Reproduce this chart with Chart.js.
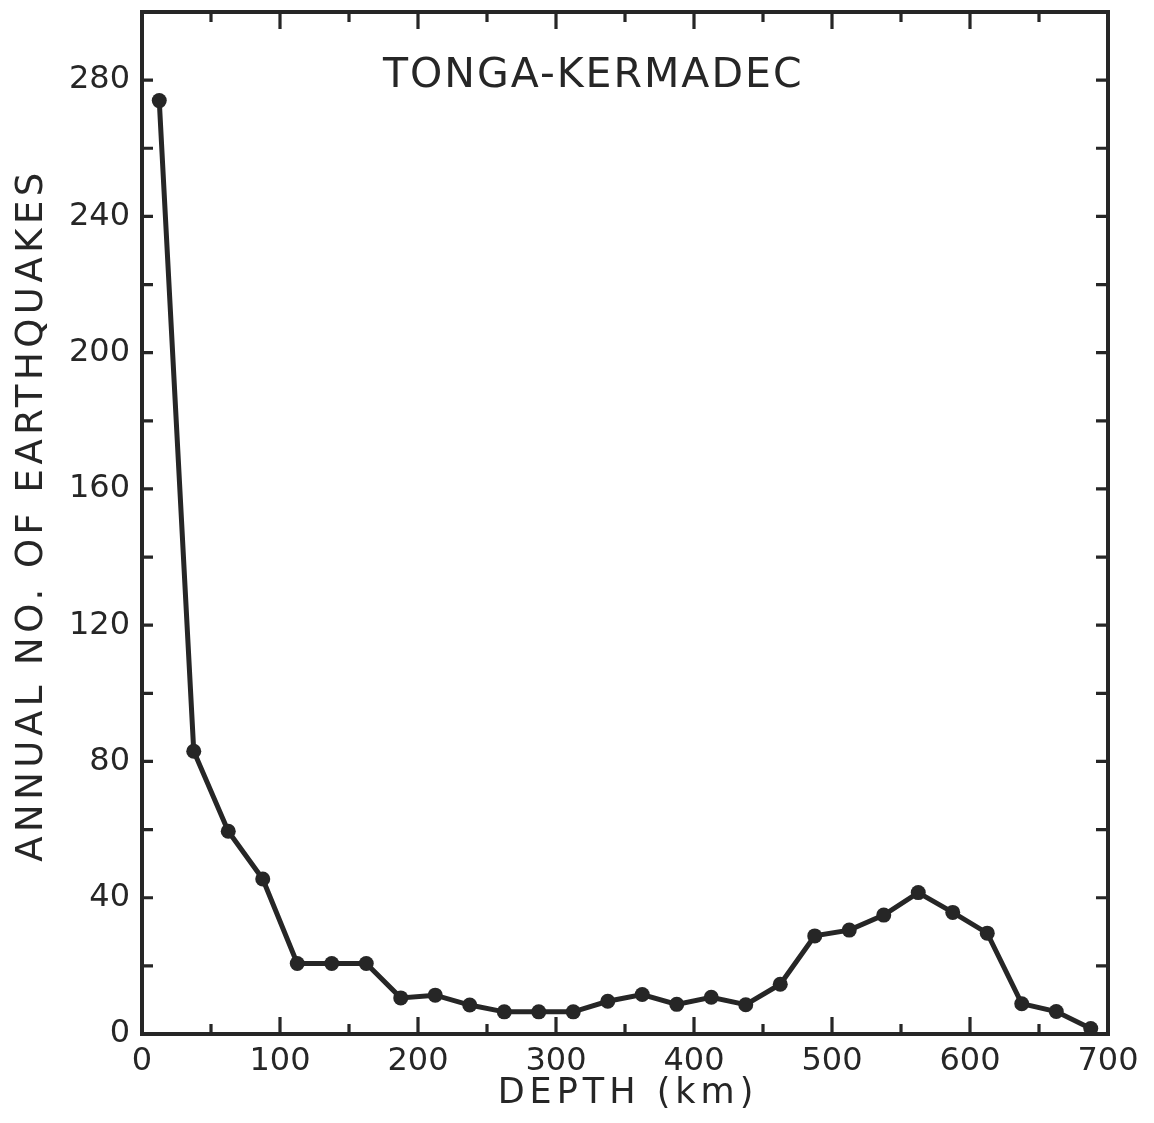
<!DOCTYPE html>
<html>
<head>
<meta charset="utf-8">
<script src="https://cdn.jsdelivr.net/npm/chart.js@4/dist/chart.umd.min.js"></script>
<style>
html,body{margin:0;padding:0;background:#fff;}
#wrap{width:1154px;height:1123px;position:relative;}
</style>
</head>
<body>
<div id="wrap"><canvas id="c" width="1154" height="1123"></canvas></div>
<script>
const depthKm = [12.5, 37.5, 62.5, 87.5, 112.5, 137.5, 162.5, 187.5, 212.5, 237.5, 262.5, 287.5, 312.5, 337.5, 362.5, 387.5, 412.5, 437.5, 462.5, 487.5, 512.5, 537.5, 562.5, 587.5, 612.5, 637.5, 662.5, 687.5];
const annualCount = [274, 83, 59.5, 45.5, 20.7, 20.7, 20.7, 10.6, 11.4, 8.5, 6.5, 6.5, 6.5, 9.6, 11.6, 8.7, 10.8, 8.6, 14.6, 28.8, 30.5, 34.9, 41.5, 35.7, 29.6, 8.9, 6.6, 1.6];
const xLabelValues = [0, 100, 200, 300, 400, 500, 600, 700];
const yLabelValues = [0, 40, 80, 120, 160, 200, 240, 280];
const chartTitle = "TONGA-KERMADEC";
const xTitle = "DEPTH (km)";
const yTitle = "ANNUAL NO. OF EARTHQUAKES";

const INK = '#262626';
const FONT = "'DejaVu Sans', sans-serif";

const frameTicks = {
  id: 'frameTicks',
  afterDatasetsDraw(chart) {
    const ctx = chart.ctx;
    const {left, right, top, bottom} = chart.chartArea;
    const xs = chart.scales.x, ys = chart.scales.y;
    ctx.save();
    ctx.strokeStyle = INK;
    ctx.lineWidth = 4;
    ctx.lineCap = 'butt';
    ctx.strokeRect(left, top, right - left, bottom - top);
    ctx.lineWidth = 3.2;
    xs.ticks.forEach(t => {
      if (t.value <= xs.min || t.value >= xs.max) return;
      const px = xs.getPixelForValue(t.value);
      const len = xLabelValues.includes(t.value) ? 17 : 10;
      ctx.beginPath();
      ctx.moveTo(px, bottom); ctx.lineTo(px, bottom - len);
      ctx.moveTo(px, top); ctx.lineTo(px, top + len);
      ctx.stroke();
    });
    ys.ticks.forEach(t => {
      if (t.value <= ys.min || t.value >= ys.max) return;
      const py = ys.getPixelForValue(t.value);
      ctx.beginPath();
      ctx.moveTo(left, py); ctx.lineTo(left + 11, py);
      ctx.moveTo(right, py); ctx.lineTo(right - 12, py);
      ctx.stroke();
    });
    ctx.fillStyle = INK;
    ctx.textAlign = 'center';
    ctx.textBaseline = 'middle';
    ctx.font = "41px " + FONT;
    ctx.letterSpacing = '2px';
    ctx.fillText(chartTitle, xs.getPixelForValue(327), ys.getPixelForValue(281));
    // axis titles
    ctx.font = "35px " + FONT;
    ctx.letterSpacing = '5px';
    ctx.fillText(xTitle, (left + right) / 2 + 3, 1094);
    ctx.save();
    ctx.translate(32, (top + bottom) / 2 - 8);
    ctx.rotate(-Math.PI / 2);
    ctx.font = "37px " + FONT;
    ctx.letterSpacing = '4.5px';
    ctx.fillText(yTitle, 0, 0);
    ctx.restore();
    ctx.restore();
  }
};

new Chart(document.getElementById('c'), {
  type: 'line',
  data: {
    datasets: [{
      data: depthKm.map((d, i) => ({x: d, y: annualCount[i]})),
      borderColor: INK,
      backgroundColor: INK,
      borderWidth: 5,
      pointRadius: 7.5,
      pointBackgroundColor: INK,
      pointBorderWidth: 0,
      tension: 0,
      clip: false
    }]
  },
  plugins: [frameTicks],
  options: {
    responsive: false,
    animation: false,
    devicePixelRatio: 1,
    layout: {padding: {top: 12, right: 46, left: 0, bottom: 0}},
    plugins: {legend: {display: false}, tooltip: {enabled: false}},
    scales: {
      x: {
        type: 'linear',
        min: 0, max: 700,
        afterFit(s) { s.height = 89; s.paddingLeft = 0; s.paddingRight = 0; },
        grid: {display: false, drawTicks: false},
        border: {display: false},
        ticks: {
          stepSize: 50,
          autoSkip: false,
          maxRotation: 0,
          padding: 8,
          color: INK,
          font: {family: FONT, size: 32},
          callback: v => xLabelValues.includes(v) ? String(v) : ''
        },
        title: {display: false}
      },
      y: {
        type: 'linear',
        min: 0, max: 300,
        afterFit(s) { s.width = 142; s.paddingTop = 0; s.paddingBottom = 0; },
        grid: {display: false, drawTicks: false},
        border: {display: false},
        ticks: {
          stepSize: 20,
          autoSkip: false,
          padding: 12,
          color: INK,
          font: {family: FONT, size: 32},
          callback: v => yLabelValues.includes(v) ? String(v) : ''
        },
        title: {display: false}
      }
    }
  }
});
</script>
</body>
</html>
